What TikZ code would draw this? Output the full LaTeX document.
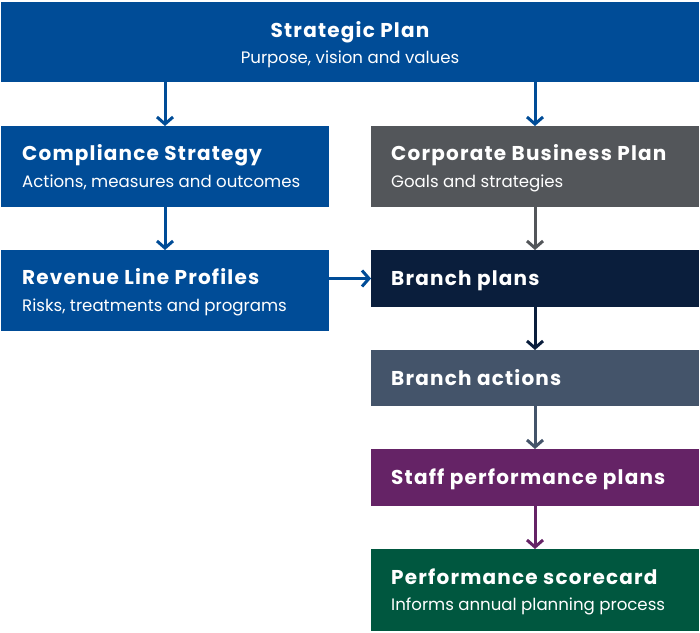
\documentclass[tikz,border=0pt]{standalone}
\usepackage{fontspec}
\setmainfont{Poppins}
\newfontfamily\ttlfont{Poppins}[LetterSpace=6]
\usetikzlibrary{arrows.meta,calc}
\definecolor{cblue}{HTML}{004C97}
\definecolor{cgray}{HTML}{53565A}
\definecolor{cnavy}{HTML}{0A1E3C}
\definecolor{cslate}{HTML}{44546A}
\definecolor{cpurple}{HTML}{652366}
\definecolor{cgreen}{HTML}{00573F}
\tikzset{
  box/.style={draw=none, inner sep=0pt, outer sep=0pt, minimum width=328pt},
  ttl/.style={anchor=base west, inner sep=0pt, text=white, font=\ttlfont\fontsize{20}{22}\selectfont\bfseries},
  sub/.style={anchor=base west, inner sep=0pt, text=white, font=\fontsize{16.6}{19}\selectfont},
  conn/.style={line width=3pt, -{Straight Barb[length=7pt, width=16pt, line width=3pt]}}
}
\begin{document}
\begin{tikzpicture}[x=1pt,y=-1pt]
\useasboundingbox (0,0) rectangle (700,632);
% boxes
\node[box, fill=cblue, minimum width=698pt, minimum height=80pt] (sp) at (350,42) {};
\node[box, fill=cblue, minimum height=81pt] (cs) at (165,166.5) {};
\node[box, fill=cblue, minimum height=81pt] (rl) at (165,290.5) {};
\node[box, fill=cgray, minimum height=81pt] (cb) at (535,166.5) {};
\node[box, fill=cnavy, minimum height=57pt] (bp) at (535,278.5) {};
\node[box, fill=cslate, minimum height=56pt] (ba) at (535,378) {};
\node[box, fill=cpurple, minimum height=57pt] (spp) at (535,477.5) {};
\node[box, fill=cgreen, minimum height=82pt] (ps) at (535,590) {};
% texts
\node[ttl, anchor=base] (spt) at (350,37) {Strategic Plan};
\node[sub, anchor=base] (sps) at (350,63.3) {Purpose, vision and values};
\node[ttl] (cst) at (22,160.7) {Compliance Strategy};
\node[sub] (css) at (22,187.7) {Actions, measures and outcomes};
\node[ttl] (rlt) at (22,284.7) {Revenue Line Profiles};
\node[sub] (rls) at (22,311.7) {Risks, treatments and programs};
\node[ttl] (cbt) at (391,160.7) {Corporate Business Plan};
\node[sub] (cbs) at (391,187.7) {Goals and strategies};
\node[ttl] (bpt) at (391,285.7) {Branch plans};
\node[ttl] (bat) at (391,385.2) {Branch actions};
\node[ttl] (sppt) at (391,484.7) {Staff performance plans};
\node[ttl] (pst) at (391,584.2) {Performance scorecard};
\node[sub] (pss) at (391,610.7) {Informs annual planning process};
% connectors
\draw[conn, cblue] (sp.south -| cs.north) -- (cs.north);
\draw[conn, cblue] (sp.south -| cb.north) -- (cb.north);
\draw[conn, cblue] (cs) -- (rl);
\draw[conn, cblue] (rl.east |- bp.west) -- (bp.west);
\draw[conn, cgray] (cb) -- (bp);
\draw[conn, cnavy] (bp) -- (ba);
\draw[conn, cslate] (ba) -- (spp);
\draw[conn, cpurple] (spp) -- (ps);
\end{tikzpicture}
\end{document}
